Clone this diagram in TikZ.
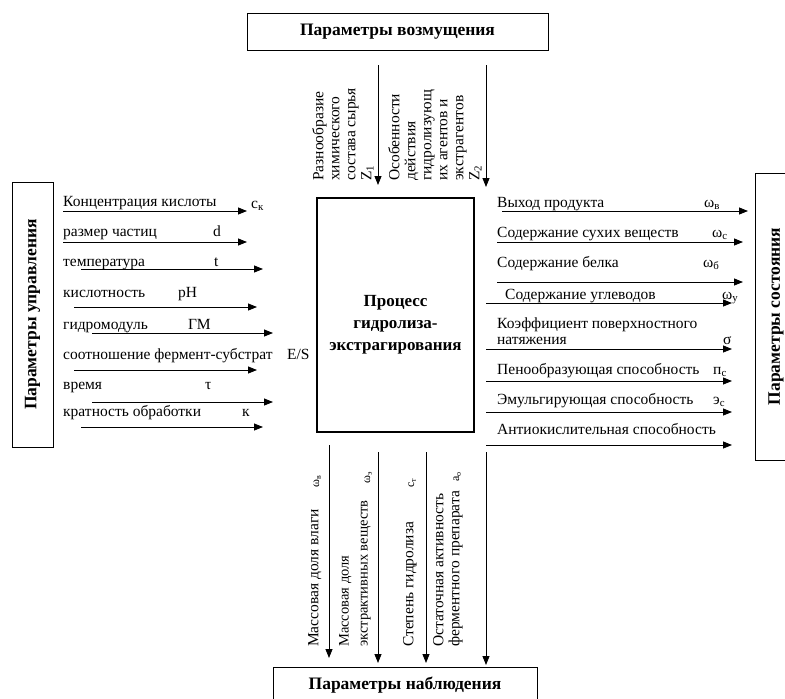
\documentclass[tikz,border=0pt]{standalone}
\usepackage{fontspec}
\setmainfont{Liberation Serif}
\usetikzlibrary{arrows.meta}
\tikzset{
  arr/.style={-{Triangle[length=9pt,width=7pt]},line width=0.8pt},
  parbox/.style={draw,line width=0.8pt,inner sep=0pt,font=\fontsize{17.5}{21}\selectfont\bfseries},
  lbl/.style={inner sep=0pt,align=left,font=\fontsize{15.5}{16}\selectfont},
  idx/.style={inner sep=0pt,font=\fontsize{15.5}{16}\selectfont},
  smidx/.style={inner sep=0pt,font=\fontsize{12}{13}\selectfont}
}

\begin{document}
\begin{tikzpicture}[x=1pt,y=-1pt]
\useasboundingbox (0,0) rectangle (785,699);

% blocks
\node[parbox,minimum width=301pt,minimum height=37pt] (dist) at (397.5,31.5) {Параметры возмущения};
\node[parbox,minimum width=264pt,minimum height=37pt] (obs) at (405,685.5) {Параметры наблюдения};
\node[parbox,rotate=90,minimum width=265pt,minimum height=41pt] (ctrl) at (32.5,314.5) {Параметры управления};
\node[parbox,rotate=90,minimum width=287pt,minimum height=42pt] (state) at (776,316.5) {Параметры состояния};
\node[draw,line width=2.5pt,minimum width=157pt,minimum height=234pt] (proc) at (395.5,315) {};
\node[align=center,font=\fontsize{17}{22}\selectfont\bfseries] (proctxt) at (395.5,325) {Процесс\\гидролиза-\\экстрагирования};

% arrows
\foreach \n/\y/\a/\b in {1/211/63/247,2/242/63/247,3/269/81/263,4/307/74/257,5/333/92/273,6/370/74/257,7/402/92/273,8/427/81/263}{
  \coordinate (ua\n) at (\a,\y); \coordinate (ub\n) at (\b,\y);
  \draw[arr] (ua\n) -- (ub\n);
}
\foreach \n/\y/\a/\b in {1/211/502/748,2/242/497/743,3/282/497/743,4/303/486/732,5/349/486/732,6/381/486/732,7/412/486/732,8/445/486/732}{
  \coordinate (sa\n) at (\a,\y); \coordinate (sb\n) at (\b,\y);
  \draw[arr] (sa\n) -- (sb\n);
}
\foreach \n/\x/\a/\b in {1/378/65/185,2/486/65/187}{
  \coordinate (za\n) at (\x,\a); \coordinate (zb\n) at (\x,\b);
  \draw[arr] (za\n) -- (zb\n);
}
\foreach \n/\x/\a/\b in {1/329/445/658,2/378/452/663,3/426/452/663,4/486/452/665}{
  \coordinate (na\n) at (\x,\a); \coordinate (nb\n) at (\x,\b);
  \draw[arr] (na\n) -- (nb\n);
}

% control inputs
\node[lbl,anchor=base west] (u1) at (63,206) {Концентрация кислоты};
\node[lbl,anchor=base west] (u2) at (63,236) {размер частиц};
\node[lbl,anchor=base west] (u3) at (63,266) {температура};
\node[lbl,anchor=base west] (u4) at (63,297) {кислотность};
\node[lbl,anchor=base west] (u5) at (63,329) {гидромодуль};
\node[lbl,anchor=base west] (u6) at (63,359) {соотношение фермент-субстрат};
\node[lbl,anchor=base west] (u7) at (63,389) {время};
\node[lbl,anchor=base west] (u8) at (63,416) {кратность обработки};
\node[idx,anchor=base west] (cu1) at (251,208) {с\textsubscript{к}};
\node[idx,anchor=base west] (cu2) at (213,236) {d};
\node[idx,anchor=base west] (cu3) at (214,266) {t};
\node[idx,anchor=base west] (cu4) at (178,297) {pH};
\node[idx,anchor=base west] (cu5) at (188,329) {ГМ};
\node[idx,anchor=base west] (cu6) at (287,359) {E/S};
\node[idx,anchor=base west] (cu7) at (205,389) {τ};
\node[idx,anchor=base west] (cu8) at (242,416) {к};

% state outputs
\node[lbl,anchor=base west] (s1) at (497,207) {Выход продукта};
\node[lbl,anchor=base west] (s2) at (497,237) {Содержание сухих веществ};
\node[lbl,anchor=base west] (s3) at (497,267) {Содержание белка};
\node[lbl,anchor=base west] (s4) at (505,299) {Содержание углеводов};
\node[lbl,anchor=north west] (s5) at (497,318) {Коэффициент поверхностного\\натяжения};
\node[lbl,anchor=base west] (s6) at (497,374) {Пенообразующая способность};
\node[lbl,anchor=base west] (s7) at (497,404) {Эмульгирующая способность};
\node[lbl,anchor=base west] (s8) at (497,434) {Антиокислительная способность};
\node[idx,anchor=base west] (cs1) at (704,207) {ω\textsubscript{в}};
\node[idx,anchor=base west] (cs2) at (712,237) {ω\textsubscript{с}};
\node[idx,anchor=base west] (cs3) at (703,267) {ω\textsubscript{б}};
\node[idx,anchor=base west] (cs4) at (722,299) {ω\textsubscript{у}};
\node[idx,anchor=base west] (cs5) at (723,344) {σ};
\node[idx,anchor=base west] (cs6) at (713,374) {п\textsubscript{с}};
\node[idx,anchor=base west] (cs7) at (713,404) {э\textsubscript{с}};

% disturbances
\node[lbl,rotate=90,anchor=north west] (z1) at (312,181) {Разнообразие\\химического\\состава сырья\\Z\textsubscript{1}};
\node[lbl,rotate=90,anchor=north west] (z2) at (388,181) {Особенности\\действия\\гидролизующ\\их агентов и\\экстрагентов\\Z\textsubscript{2}};

% observations
\node[lbl,rotate=90,anchor=north west] (n1) at (308,647) {Массовая доля влаги};
\node[lbl,rotate=90,anchor=north west,font=\fontsize{14.5}{19}\selectfont] (n2) at (339,647) {Массовая доля\\экстрактивных веществ};
\node[lbl,rotate=90,anchor=north west] (n3) at (403,647) {Степень гидролиза};
\node[lbl,rotate=90,anchor=north west] (n4) at (433,647) {Остаточная активность\\ферментного препарата};
\node[smidx,rotate=90,anchor=base west] (cn1) at (319,488) {ω\textsubscript{в}};
\node[smidx,rotate=90,anchor=base west] (cn2) at (370,484) {ω\textsubscript{э}};
\node[smidx,rotate=90,anchor=base west] (cn3) at (414,488) {с\textsubscript{т}};
\node[smidx,rotate=90,anchor=base west] (cn4) at (459,482) {а\textsubscript{о}};

\end{tikzpicture}
\end{document}
